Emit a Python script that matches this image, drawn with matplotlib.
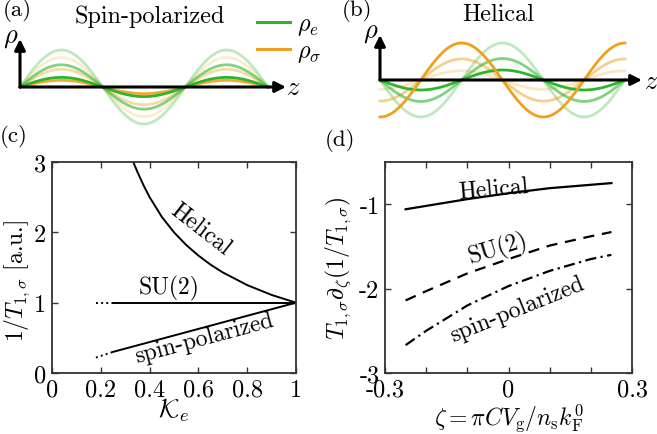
import numpy as np
import matplotlib
matplotlib.use("Agg")
import matplotlib.pyplot as plt
from matplotlib.lines import Line2D

plt.rcParams.update({
    "font.family": "cmr10",
    "mathtext.fontset": "cm",
    "axes.unicode_minus": False,
    "font.size": 16.5,
})

# ---------------- data ----------------
# schematic waves (amplitudes relative units, in periods along z)
a_green_amp = [1.0, 0.6, 0.26]
a_green_alpha = [0.3, 0.6, 1.0]
a_orange_amp = [0.8, 0.48, 0.18]
a_orange_alpha = [0.2, 0.4, 0.9]

b_green_amp = [1.0, 0.58, 0.27]
b_green_alpha = [0.3, 0.6, 1.0]
b_orange_amp = [0.25, 0.57, 1.0]
b_orange_alpha = [0.25, 0.5, 1.0]

# panel (c)
c_kappa_hel = [0.333, 0.35, 0.375, 0.4, 0.45, 0.5, 0.55, 0.6, 0.65, 0.7, 0.8, 0.9, 1.0]
c_rate_hel = [3.0, 2.86, 2.67, 2.5, 2.22, 2.0, 1.82, 1.67, 1.54, 1.43, 1.25, 1.11, 1.0]
c_kappa_su2 = [0.25, 1.0]
c_rate_su2 = [1.0, 1.0]
c_kappa_su2_dot = [0.18, 0.25]
c_rate_su2_dot = [1.0, 1.0]
c_kappa_sp = [0.25, 1.0]
c_rate_sp = [0.3, 1.0]
c_kappa_sp_dot = [0.18, 0.25]
c_rate_sp_dot = [0.22, 0.3]

# panel (d)
d_zeta = [-0.25, -0.2, -0.1, 0.0, 0.1, 0.2, 0.25]
d_hel = [-1.06, -1.02, -0.94, -0.87, -0.81, -0.77, -0.75]
d_su2 = [-2.14, -2.03, -1.82, -1.65, -1.49, -1.38, -1.33]
d_sp = [-2.67, -2.50, -2.20, -1.97, -1.79, -1.65, -1.60]

c_xticks = [0, 0.2, 0.4, 0.6, 0.8, 1]
c_xticklabels = ["0", "0.2", "0.4", "0.6", "0.8", "1"]
c_yticks = [0, 1, 2, 3]
c_yticklabels = ["0", "1", "2", "3"]
d_xticks = [-0.3, -0.2, -0.1, 0.0, 0.1, 0.2, 0.3]
d_xticklabels = ["-0.3", "", "", "0", "", "", "0.3"]
d_yticks = [-3, -2, -1]
d_yticklabels = ["-3", "-2", "-1"]

GREEN = "#2db52d"
ORANGE = "#f0a01e"

W, H = 657, 435
fig = plt.figure(figsize=(W / 100, H / 100), dpi=100)


def px_axes(x0, y0, x1, y1):
    return fig.add_axes([x0 / W, 1 - y1 / H, (x1 - x0) / W, (y1 - y0) / H])


def ftext(x, y, s, **kw):
    fig.text(x / W, 1 - y / H, s, ha="center", va="center", **kw)


z = np.linspace(0, 1.5, 400)

# ---------------- panel (a) ----------------
axA = px_axes(0, 0, 330, 130)
axA.axis("off")
Pa, Ua, ox, oy = 165.3, 37.0, 20, 88
axA.set_xlim(-ox / Pa, (330 - ox) / Pa)
axA.set_ylim(-(130 - oy) / Ua, oy / Ua)
for A, al in zip(a_orange_amp, a_orange_alpha):
    axA.plot(z, A * np.sin(2 * np.pi * z), color=ORANGE, alpha=al, lw=2.0, zorder=2)
for A, al in zip(a_green_amp, a_green_alpha):
    axA.plot(z, A * np.sin(2 * np.pi * z), color=GREEN, alpha=al, lw=2.0, zorder=3)
axA.annotate("", xy=((286 - ox) / Pa, 0), xytext=(0, 0),
             arrowprops=dict(arrowstyle="-|>", lw=2.2, color="k", mutation_scale=16,
                             shrinkA=0, shrinkB=0), zorder=5, annotation_clip=False)
axA.annotate("", xy=(0, (oy - 40) / Ua), xytext=(0, 0),
             arrowprops=dict(arrowstyle="-|>", lw=2.2, color="k", mutation_scale=16,
                             shrinkA=0, shrinkB=0), zorder=5, annotation_clip=False)
ftext(11, 38, r"$\rho$", fontsize=19)
ftext(293, 88, r"$z$", fontsize=19)
ftext(150, 17, "Spin-polarized", fontsize=17.5)
ftext(17, 11, "(a)", fontsize=16.5)

handles = [Line2D([], [], color=GREEN, lw=2.2), Line2D([], [], color=ORANGE, lw=2.2)]
fig.legend(handles, [r"$\rho_e$", r"$\rho_\sigma$"], loc="upper left",
           bbox_to_anchor=(240 / W, 1 + 3 / H), frameon=False, fontsize=17.5,
           handlelength=1.35, handletextpad=0.3, labelspacing=0.12, borderpad=0.2)

# ---------------- panel (b) ----------------
axB = px_axes(330, 0, 657, 130)
axB.axis("off")
Pb, Ub, bx, by = 163.3, 37.0, 50, 81
axB.set_xlim(-bx / Pb, (327 - bx) / Pb)
axB.set_ylim(-(130 - by) / Ub, by / Ub)
layers = []
for A, al in zip(b_green_amp, b_green_alpha):
    layers.append((al, A * -np.sin(2 * np.pi * z), GREEN))
for A, al in zip(b_orange_amp, b_orange_alpha):
    layers.append((al, A * -np.cos(2 * np.pi * z), ORANGE))
for al, y, c in sorted(layers, key=lambda t: t[0]):
    axB.plot(z, y, color=c, alpha=al, lw=2.0)
axB.annotate("", xy=((642 - 380) / Pb, 0), xytext=(0, 0),
             arrowprops=dict(arrowstyle="-|>", lw=2.2, color="k", mutation_scale=16,
                             shrinkA=0, shrinkB=0), zorder=5, annotation_clip=False)
axB.annotate("", xy=(0, (by - 36) / Ub), xytext=(0, 0),
             arrowprops=dict(arrowstyle="-|>", lw=2.2, color="k", mutation_scale=16,
                             shrinkA=0, shrinkB=0), zorder=5, annotation_clip=False)
ftext(371, 33, r"$\rho$", fontsize=19)
ftext(651, 82, r"$z$", fontsize=19)
ftext(498, 15, "Helical", fontsize=17.5)
ftext(357, 11, "(b)", fontsize=16.5)


def style(ax):
    ax.tick_params(direction="in", top=True, right=True, length=4, width=1.0,
                   labelsize=17.5, pad=4, color="#333333")
    for s in ax.spines.values():
        s.set_linewidth(1.3)
        s.set_color("#333333")


# ---------------- panel (c) ----------------
axC = px_axes(52, 163, 296, 374)
style(axC)
axC.plot(c_kappa_hel, c_rate_hel, color="k", lw=1.4)
axC.plot(c_kappa_su2, c_rate_su2, color="k", lw=1.4)
axC.plot(c_kappa_su2_dot, c_rate_su2_dot, color="k", lw=1.4, ls=":")
axC.plot(c_kappa_sp, c_rate_sp, color="k", lw=1.4)
axC.plot(c_kappa_sp_dot, c_rate_sp_dot, color="k", lw=1.4, ls=":")
axC.set_xlim(0, 1)
axC.set_ylim(0, 3)
axC.set_xticks(c_xticks)
axC.set_xticklabels(c_xticklabels)
axC.set_yticks(c_yticks)
axC.set_yticklabels(c_yticklabels)
axC.text(0.61, 2.05, "Helical", rotation=-38, ha="center", va="center", fontsize=17)
axC.text(0.48, 1.22, "SU(2)", ha="center", va="center", fontsize=17)
axC.text(0.625, 0.5, "spin-polarized", rotation=15, ha="center", va="center", fontsize=17)
axC.set_xlabel(r"$\mathcal{K}_e$", fontsize=19)
axC.xaxis.set_label_coords(0.5, -0.105)
axC.set_ylabel(r"$1/T_{1,\sigma}$ [a.u.]", fontsize=17)
axC.yaxis.set_label_coords(-0.082, 0.44)
ftext(14, 137, "(c)", fontsize=16.5)

# ---------------- panel (d) ----------------
axD = px_axes(385, 163, 632, 374)
style(axD)
axD.plot(d_zeta, d_hel, color="k", lw=1.6)
axD.plot(d_zeta, d_su2, color="k", lw=1.6, ls=(0, (5, 3.5)))
axD.plot(d_zeta, d_sp, color="k", lw=1.6, ls=(0, (5, 2, 1, 2)))
axD.set_xlim(-0.3, 0.3)
axD.set_ylim(-3, -0.5)
axD.set_xticks(d_xticks)
axD.set_xticklabels(d_xticklabels)
axD.set_yticks(d_yticks)
axD.set_yticklabels(d_yticklabels)
axD.text(-0.035, -0.82, "Helical", rotation=5, ha="center", va="center", fontsize=17)
axD.text(-0.025, -1.52, "SU(2)", rotation=17, ha="center", va="center", fontsize=17)
axD.text(0.022, -2.24, "spin-polarized", rotation=22, ha="center", va="center", fontsize=17)
axD.set_xlabel(r"$\zeta=\pi C V_{\rm g}/n_{\rm s}k_{\rm F}^0$", fontsize=17)
axD.xaxis.set_label_coords(0.5, -0.135)
axD.set_ylabel(r"$T_{1,\sigma}\partial_\zeta(1/T_{1,\sigma})$", fontsize=17)
axD.yaxis.set_label_coords(-0.13, 0.5)
ftext(340, 141, "(d)", fontsize=16.5)

fig.savefig("out.png", dpi=100)
